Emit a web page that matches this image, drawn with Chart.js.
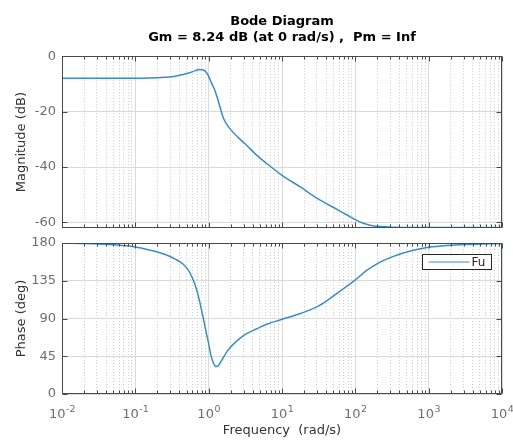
<!DOCTYPE html>
<html><head><meta charset="utf-8">
<script src="https://cdn.jsdelivr.net/npm/chart.js@4.4.1/dist/chart.umd.min.js"></script>
<style>
html,body{margin:0;padding:0;background:#fff;}
#wrap{position:relative;width:513px;height:441px;overflow:hidden;}
canvas{position:absolute;left:0;}
</style>
</head><body>
<div id="wrap">
<canvas id="mag" width="513" height="232" style="top:0"></canvas>
<canvas id="phase" width="513" height="209" style="top:232px"></canvas>
</div>
<script>
// ---- data ----
const magFrequency = [0.01, 0.0316, 0.1, 0.158, 0.251, 0.355, 0.447, 0.562, 0.661, 0.759,
  0.851, 0.933, 1, 1.096, 1.202, 1.318, 1.445, 1.585, 1.778, 1.995,
  2.512, 3.162, 4.467, 6.310, 10, 17.78, 31.62, 56.23, 79.43, 100,
  125.9, 158.5, 223.9, 316.2, 562.3, 1000, 3162, 10000];
const magnitudeDb = [-8.0, -8.0, -8.0, -7.9, -7.6, -7.2, -6.6, -5.9, -5.2, -4.8,
  -5.0, -5.9, -7.3, -9.8, -12.0, -15.2, -18.8, -22.3, -24.7, -26.5,
  -29.3, -31.7, -35.6, -38.9, -43.0, -47.2, -51.6, -55.3, -57.5, -59.0,
  -60.2, -61.0, -61.5, -61.7, -61.8, -61.8, -61.8, -61.8];
const phaseFrequency = [0.01, 0.0316, 0.1, 0.158, 0.251, 0.355, 0.447, 0.525, 0.603, 0.676,
  0.759, 0.851, 0.933, 1, 1.072, 1.148, 1.259, 1.349, 1.445, 1.585,
  1.778, 1.995, 2.512, 3.162, 4.467, 6.310, 10, 17.78, 31.62, 56.23,
  79.43, 100, 141.3, 199.5, 316.2, 562.3, 1000, 1778, 3162, 10000];
const phaseDeg = [179.9, 178.7, 175.3, 171.5, 166.5, 160.5, 155.0, 148.0, 138.0, 126.0,
  109.0, 89.0, 72.0, 60.0, 46.0, 38.0, 32.8, 33.5, 37.5, 43.5,
  50.5, 56.0, 64.5, 71.0, 77.5, 83.5, 89.0, 96.0, 105.0, 120.0,
  129.5, 136.0, 147.0, 155.5, 163.5, 170.5, 174.8, 177.0, 178.2, 179.5];
const magTicks = [-60, -40, -20, 0];
const phaseTicks = [0, 45, 90, 135, 180];
const decadeExponents = ['-2', '-1', '0', '1', '2', '3', '4'];
const seriesName = 'Fu';
const titleLines = ['Bode Diagram', 'Gm = 8.24 dB (at 0 rad/s) ,  Pm = Inf'];
const magLabel = 'Magnitude (dB)';
const phaseLabel = 'Phase (deg)';
const freqLabel = 'Frequency  (rad/s)';

// ---- style ----
const FONT = 'DejaVu Sans';
const LINE_COLOR = '#3b8dc0';
const TICK_COLOR = '#6e6e6e';
const LABEL_COLOR = '#333333';
const BOX_COLOR = '#4a4a4a';

function logTickList() {
  const out = [];
  decadeExponents.forEach((e, i) => {
    const base = Math.pow(10, Number(e));
    const kmax = i === decadeExponents.length - 1 ? 1 : 9;
    for (let k = 1; k <= kmax; k++) out.push({ value: k * base, major: k === 1 });
  });
  return out;
}

function xScaleOpts(height, withTitle) {
  return {
    type: 'logarithmic',
    min: Math.pow(10, Number(decadeExponents[0])),
    max: Math.pow(10, Number(decadeExponents[decadeExponents.length - 1])),
    afterBuildTicks: s => { s.ticks = logTickList(); },
    afterFit: s => { s.height = height; s.paddingLeft = 0; s.paddingRight = 0; },
    ticks: { display: false },
    grid: {
      drawTicks: false,
      color: c => (c.tick && c.tick.major) ? '#dadada' : '#cdcdcd',
      lineWidth: 1
    },
    border: {
      display: false,
      dash: c => (c.tick && c.tick.major) ? [] : [1, 2]
    },
    title: withTitle ? {
      display: true, text: freqLabel, color: LABEL_COLOR,
      font: { family: FONT, size: 13 }, padding: { top: 0, bottom: 3 }
    } : { display: false }
  };
}

function yScaleOpts(min, max, ticks, label) {
  return {
    min: min, max: max,
    afterBuildTicks: s => { s.ticks = ticks.map(v => ({ value: v })); },
    afterFit: s => { s.width = 62; s.paddingTop = 0; s.paddingBottom = 0; },
    ticks: { color: TICK_COLOR, font: { family: FONT, size: 13 }, padding: 6,
             callback: v => String(v) },
    grid: { drawTicks: false, color: '#dadada', lineWidth: 1 },
    border: { display: false },
    title: { display: true, text: label, color: LABEL_COLOR,
             font: { family: FONT, size: 13 }, padding: { top: 14, bottom: 0 } }
  };
}

const boxPlugin = {
  id: 'axesBox',
  afterDatasetsDraw(chart) {
    const { ctx, chartArea: a, scales } = chart;
    const L = Math.round(a.left) + 0.5, R = Math.round(a.right) - 0.5;
    const T = Math.round(a.top) + 0.5, B = Math.round(a.bottom) - 0.5;
    ctx.save();
    ctx.strokeStyle = BOX_COLOR;
    ctx.lineWidth = 1;
    ctx.strokeRect(L, T, R - L, B - T);
    ctx.beginPath();
    scales.x.ticks.forEach(t => {
      const x = Math.round(scales.x.getPixelForValue(t.value)) + 0.5;
      const len = t.major ? 5 : 3;
      ctx.moveTo(x, B); ctx.lineTo(x, B - len);
      ctx.moveTo(x, T); ctx.lineTo(x, T + len);
    });
    scales.y.ticks.forEach(t => {
      const y = Math.round(scales.y.getPixelForValue(t.value)) + 0.5;
      ctx.moveTo(L, y); ctx.lineTo(L + 5, y);
      ctx.moveTo(R, y); ctx.lineTo(R - 5, y);
    });
    ctx.stroke();
    ctx.restore();
  }
};

const xLabelPlugin = {
  id: 'xPowerLabels',
  afterDraw(chart) {
    const { ctx, chartArea: a, scales } = chart;
    const s = scales.x;
    const baseY = a.bottom + 24;
    ctx.save();
    ctx.fillStyle = TICK_COLOR;
    ctx.textBaseline = 'alphabetic';
    ctx.textAlign = 'left';
    decadeExponents.forEach(e => {
      const px = s.getPixelForValue(Math.pow(10, Number(e)));
      ctx.font = '13px "' + FONT + '"';
      const w1 = ctx.measureText('10').width;
      ctx.font = '9.5px "' + FONT + '"';
      const w2 = ctx.measureText(e).width;
      const x0 = px - (w1 + w2) / 2;
      ctx.font = '13px "' + FONT + '"';
      ctx.fillText('10', x0, baseY);
      ctx.font = '9.5px "' + FONT + '"';
      ctx.fillText(e, x0 + w1 + 0.5, baseY - 6);
    });
    ctx.restore();
  }
};

const legendPlugin = {
  id: 'boxLegend',
  afterDraw(chart) {
    const { ctx, chartArea: a } = chart;
    const w = 69, h = 15;
    const x = Math.round(a.right) - 11 - w + 0.5;
    const y = Math.round(a.top) + 11 + 0.5;
    ctx.save();
    ctx.fillStyle = '#ffffff';
    ctx.fillRect(x, y, w, h);
    ctx.strokeStyle = '#262626';
    ctx.lineWidth = 1;
    ctx.strokeRect(x, y, w, h);
    ctx.strokeStyle = LINE_COLOR;
    ctx.lineWidth = 1.2;
    ctx.beginPath();
    ctx.moveTo(x + 6, y + h / 2);
    ctx.lineTo(x + 47, y + h / 2);
    ctx.stroke();
    ctx.fillStyle = '#262626';
    ctx.font = '12px "' + FONT + '"';
    ctx.textBaseline = 'middle';
    ctx.textAlign = 'left';
    ctx.fillText(seriesName, x + 49, y + h / 2 + 0.5);
    ctx.restore();
  }
};

function pts(freqs, vals) { return freqs.map((f, i) => ({ x: f, y: vals[i] })); }

const lineDs = (freqs, vals) => ({
  label: seriesName,
  data: pts(freqs, vals),
  borderColor: LINE_COLOR,
  borderWidth: 1.5,
  pointRadius: 0,
  fill: false,
  cubicInterpolationMode: 'monotone'
});

new Chart(document.getElementById('mag'), {
  type: 'line',
  data: { datasets: [lineDs(magFrequency, magnitudeDb)] },
  options: {
    responsive: false, animation: false,
    layout: { padding: { top: 0, left: 0, right: 11, bottom: 4 } },
    plugins: {
      legend: { display: false },
      tooltip: { enabled: false },
      title: {
        display: true, text: titleLines, fullSize: false, color: '#000',
        font: { family: FONT, size: 13, weight: 'bold', lineHeight: 1.2 },
        padding: { top: 14, bottom: 11 }
      }
    },
    scales: {
      x: xScaleOpts(0, false),
      y: yScaleOpts(-62, 0, magTicks, magLabel)
    }
  },
  plugins: [boxPlugin]
});

new Chart(document.getElementById('phase'), {
  type: 'line',
  data: { datasets: [lineDs(phaseFrequency, phaseDeg)] },
  options: {
    responsive: false, animation: false,
    layout: { padding: { top: 11, left: 0, right: 11, bottom: 0 } },
    plugins: { legend: { display: false }, tooltip: { enabled: false } },
    scales: {
      x: xScaleOpts(47, true),
      y: yScaleOpts(0, 180, phaseTicks, phaseLabel)
    }
  },
  plugins: [boxPlugin, xLabelPlugin, legendPlugin]
});
</script>
</body></html>
